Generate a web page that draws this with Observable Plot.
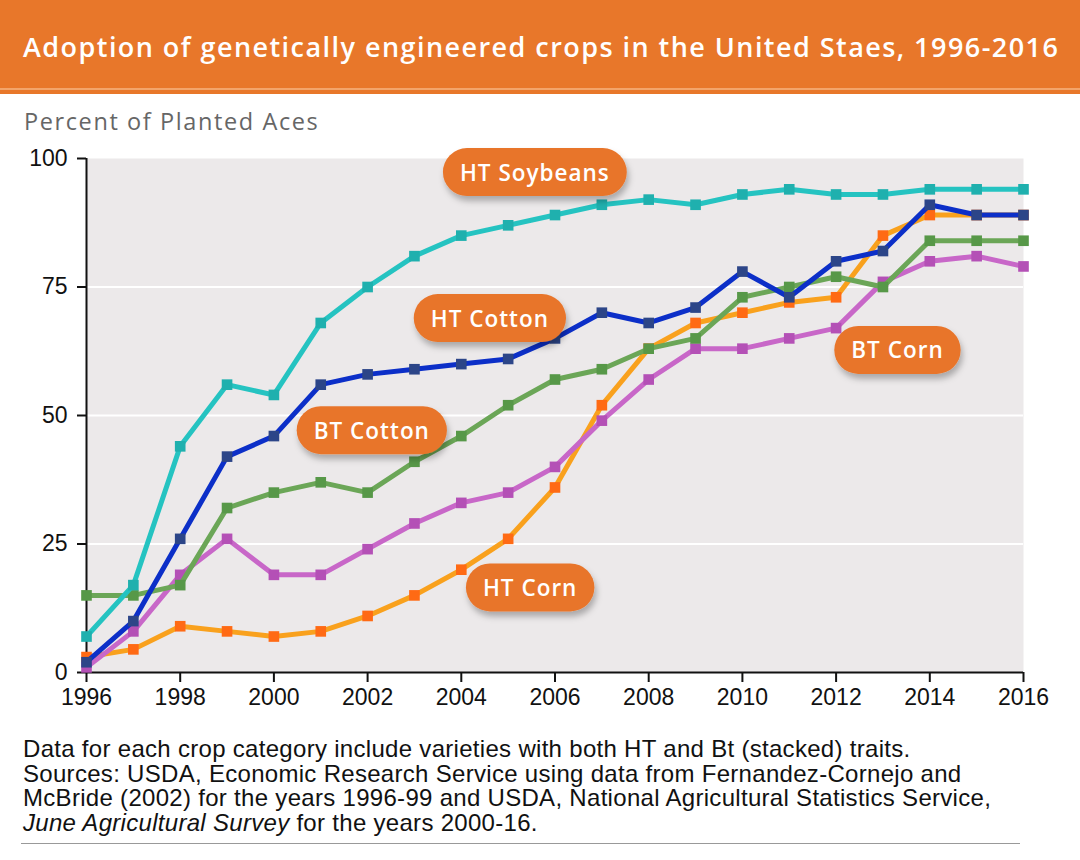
<!DOCTYPE html>
<html>
<head>
<meta charset="utf-8">
<script src="https://cdn.jsdelivr.net/npm/d3@7"></script>
<script src="https://cdn.jsdelivr.net/npm/@observablehq/plot@0.6"></script>
<style>
  html, body { margin: 0; padding: 0; background: #fff; }
  #page { position: relative; width: 1080px; height: 860px; overflow: hidden; background: #fff; }
  #banner { position: absolute; left: 0; top: 0; width: 1080px; height: 88px; background: #E8772A;
            border-bottom: 2px solid #F3A46A; box-shadow: 0 4px 0 #E8772A; }
  #title { position: absolute; left: 23px; top: 28px; color: #fff; font-family: "Open Sans", sans-serif;
           font-weight: 600; font-size: 27px; white-space: nowrap; letter-spacing: 1.45px; }
  #subtitle { position: absolute; left: 24px; top: 105px; color: #666; font-family: "Open Sans", sans-serif;
              font-size: 23.5px; white-space: nowrap; letter-spacing: 1.6px; }
  #chart { position: absolute; left: 0; top: 140px; }
  #caption { position: absolute; left: 23px; top: 737px; font-family: "Liberation Sans", Arial, sans-serif;
             font-size: 24px; line-height: 24.7px; color: #111; white-space: nowrap; letter-spacing: 0.3px; }
  #rule { position: absolute; left: 21px; top: 843px; width: 999px; height: 0; border-top: 1px solid #999; }
</style>
</head>
<body>
<div id="page">
  <div id="banner"></div>
  <div id="title">Adoption of genetically engineered crops in the United Staes, 1996-2016</div>
  <div id="subtitle">Percent of Planted Aces</div>
  <div id="chart"></div>
  <div id="caption">Data for each crop category include varieties with both HT and Bt (stacked) traits.<br>Sources: USDA, Economic Research Service using data from Fernandez-Cornejo and<br>McBride (2002) for the years 1996-99 and USDA, National Agricultural Statistics Service,<br><i>June Agricultural Survey</i> for the years 2000-16.</div>
  <div id="rule"></div>
</div>
<script>
// ---- data ----
const years = [1996, 1997, 1998, 1999, 2000, 2001, 2002, 2003, 2004, 2005, 2006,
               2007, 2008, 2009, 2010, 2011, 2012, 2013, 2014, 2015, 2016];
const htCorn     = [3, 4.5, 9, 8, 7, 8, 11, 15, 20, 26, 36, 52, 63, 68, 70, 72, 73, 85, 89, 89, 89];
const btCorn     = [1, 8, 19, 26, 19, 19, 24, 29, 33, 35, 40, 49, 57, 63, 63, 65, 67, 76, 80, 81, 79];
const btCotton   = [15, 15, 17, 32, 35, 37, 35, 41, 46, 52, 57, 59, 63, 65, 73, 75, 77, 75, 84, 84, 84];
const htCotton   = [2, 10, 26, 42, 46, 56, 58, 59, 60, 61, 65, 70, 68, 71, 78, 73, 80, 82, 91, 89, 89];
const htSoybeans = [7, 17, 44, 56, 54, 68, 75, 81, 85, 87, 89, 91, 92, 91, 93, 94, 93, 93, 94, 94, 94];
const seriesNames = ["HT Corn", "BT Corn", "BT Cotton", "HT Cotton", "HT Soybeans"];
const xTicks = [1996, 1998, 2000, 2002, 2004, 2006, 2008, 2010, 2012, 2014, 2016];
const yTicks = [0, 25, 50, 75, 100];
// callout labels (year, percent)
const calloutText  = ["HT Soybeans", "HT Cotton", "BT Cotton", "HT Corn", "BT Corn"];
const calloutYear  = [2005.57, 2004.61, 2002.09, 2005.47, 2013.31];
const calloutValue = [97.1, 68.7, 46.9, 16.3, 62.5];

// ---- styles ----
const lineColor = {"HT Corn": "#F9A11D", "BT Corn": "#C867C8", "BT Cotton": "#6BA657", "HT Cotton": "#0C2FC8", "HT Soybeans": "#25C3C1"};
const markColor = {"HT Corn": "#FF6A14", "BT Corn": "#B450B6", "BT Cotton": "#579848", "HT Cotton": "#2C4588", "HT Soybeans": "#1FB0AE"};

const valuesBy = {"HT Corn": htCorn, "BT Corn": btCorn, "BT Cotton": btCotton, "HT Cotton": htCotton, "HT Soybeans": htSoybeans};
const callouts = calloutText.map((t, i) => ({text: t, year: calloutYear[i], value: calloutValue[i]}));

const seriesMarks = seriesNames.flatMap(name => {
  const rows = years.map((y, i) => ({year: y, value: valuesBy[name][i]}));
  return [
    Plot.line(rows, {x: "year", y: "value", stroke: lineColor[name], strokeWidth: 5, strokeLinejoin: "round"}),
    Plot.dot(rows, {x: "year", y: "value", symbol: "square", r: 6, fill: markColor[name], stroke: null})
  ];
});

const chart = Plot.plot({
  width: 1080,
  height: 580,
  marginLeft: 86,
  marginRight: 57,
  marginTop: 18,
  marginBottom: 48,
  x: {domain: [1996, 2016]},
  y: {domain: [0, 100]},
  style: {fontFamily: "'Liberation Sans', Arial, sans-serif", fontSize: "23px", color: "#111", background: "transparent", overflow: "visible"},
  marks: [
    Plot.frame({fill: "#ECE9EA", stroke: null}),
    Plot.gridY([25, 50, 75], {stroke: "#fff", strokeOpacity: 1, strokeWidth: 2}),
    Plot.axisY(yTicks, {tickSize: 9, tickPadding: 10, strokeWidth: 2, label: null, fontSize: 23}),
    Plot.axisX(xTicks, {tickSize: 10, tickPadding: 6, strokeWidth: 2, label: null, tickFormat: d => String(d), fontSize: 23}),
    Plot.ruleX([1996], {stroke: "#111", strokeWidth: 2}),
    Plot.ruleY([0], {stroke: "#111", strokeWidth: 2}),
    ...seriesMarks,
    Plot.text(callouts, {x: "year", y: "value", text: "text", fill: "#fff", fontSize: 22.5,
      fontFamily: "'Open Sans', sans-serif", fontWeight: 600, ariaDescription: "callouts"})
  ]
});
document.getElementById("chart").appendChild(chart);

// pill backgrounds behind callout labels
const NS = "http://www.w3.org/2000/svg";
const defs = document.createElementNS(NS, "defs");
defs.innerHTML = '<filter id="pillShadow" x="-20%" y="-30%" width="140%" height="180%"><feDropShadow dx="2" dy="5" stdDeviation="3" flood-color="#000" flood-opacity="0.28"/></filter>';
chart.insertBefore(defs, chart.firstChild);
const calloutGroup = chart.querySelector('g[aria-description="callouts"]');
calloutGroup.style.letterSpacing = "1px";
calloutGroup.querySelectorAll("text").forEach(t => {
  const b = t.getBBox();
  const h = 48, padX = 17;
  const r = document.createElementNS(NS, "rect");
  r.setAttribute("x", b.x - padX);
  r.setAttribute("y", b.y + b.height / 2 - h / 2);
  r.setAttribute("width", b.width + 2 * padX);
  r.setAttribute("height", h);
  r.setAttribute("rx", h / 2);
  r.setAttribute("fill", "#E8752B");
  r.setAttribute("filter", "url(#pillShadow)");
  if (t.getAttribute("transform")) r.setAttribute("transform", t.getAttribute("transform"));
  t.parentNode.insertBefore(r, t);
});
</script>
</body>
</html>
